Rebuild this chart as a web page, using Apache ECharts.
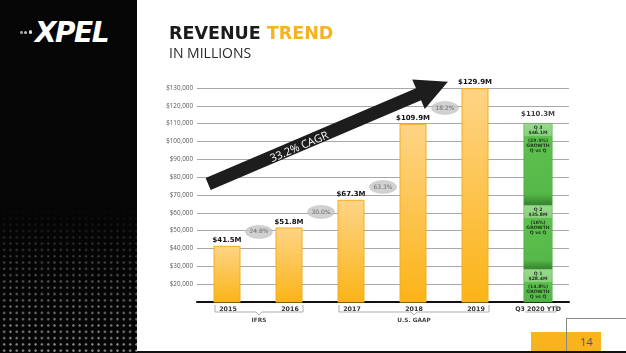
<!DOCTYPE html>
<html>
<head>
<meta charset="utf-8">
<script src="https://cdn.jsdelivr.net/npm/echarts@6/dist/echarts.min.js"></script>
<style>
  html, body { margin: 0; padding: 0; background: #fff; }
  #page { position: relative; width: 626px; height: 353px; overflow: hidden; background: #fff; }
  #panel { position: absolute; left: 0; top: 0; width: 137px; height: 353px; background: #050505; }
  #dots { position: absolute; left: 0; top: 208px; width: 137px; height: 145px;
    background-image: radial-gradient(circle, #9a9a9a 1px, rgba(0,0,0,0) 1.4px);
    background-size: 6.3px 6.3px; background-position: 1px 1px; }
  #fade { position: absolute; left: 0; top: 208px; width: 137px; height: 145px;
    background: linear-gradient(to bottom, rgba(5,5,5,1) 0%, rgba(5,5,5,0.55) 45%, rgba(5,5,5,0.1) 100%); }
  #logo { position: absolute; left: 35px; top: 16px; color: #fff; font: italic bold 28px "DejaVu Sans";
    letter-spacing: -1.5px; }
  .ld { position: absolute; border-radius: 50%; background: #ddd; }
  #chart { position: absolute; left: 0; top: 0; width: 626px; height: 353px; }
  #foot-orange { position: absolute; left: 531px; top: 332px; width: 70px; height: 20px; background: #f9b31b; }
  #foot-v { position: absolute; left: 566px; top: 318px; width: 1px; height: 35px; background: #888; }
  #foot-h { position: absolute; left: 566px; top: 318px; width: 60px; height: 1px; background: #888; }
  #foot-num { position: absolute; left: 580px; top: 334px; font: 11px "Open Sans"; color: #555; }
  #foot-line { position: absolute; left: 137px; top: 351px; width: 489px; height: 2px; background: #111; }
</style>
</head>
<body>
<div id="page">
  <div id="panel"></div>
  <div id="dots"></div>
  <div id="fade"></div>
  <div class="ld" style="left:20px;top:31px;width:2.5px;height:2.5px;background:#999"></div>
  <div class="ld" style="left:24px;top:30.5px;width:3px;height:3px;background:#bbb"></div>
  <div class="ld" style="left:28.5px;top:30px;width:3.5px;height:3.5px;background:#ddd"></div>
  <div id="logo">XPEL</div>
  <div id="foot-orange"></div>
  <div id="foot-v"></div>
  <div id="foot-h"></div>
  <div id="foot-num">14</div>
  <div id="foot-line"></div>
  <div id="chart"></div>
</div>
<script>
// values in thousands of dollars
const years = ['2015', '2016', '2017', '2018', '2019', 'Q3 2020 YTD'];
const annualRevenue = [41500, 51800, 67300, 109900, 129900, '-'];
const quarterNames = ['Q 1', 'Q 2', 'Q 3'];
const quarterRevenue = [28400, 35800, 46100];
const quarterGrowth = ['(14.8%)', '(16%)', '(29.5%)'];
const yoyGrowth = ['24.8%', '30.0%', '63.3%', '18.2%'];
const cagrText = '33.2% CAGR';
const standards = [
  { name: 'IFRS', first: 0, last: 1 },
  { name: 'U.S. GAAP', first: 2, last: 4 },
  { name: '', first: 5, last: 5 }
];
const yMin = 10000, yMax = 130000, yStep = 10000;

// layout only: where the growth bubbles and the CAGR arrow sit
const bubbleHeights = [49300, 60500, 74500, 118800];
const arrowFrom = [-0.32, 76200];
const arrowTo = [3.31, 130000];

const money = v => '$' + (v / 1000).toFixed(1) + 'M';
const ytdTotal = quarterRevenue.reduce((a, b) => a + b, 0);
const gridTop = 88, gridBottom = 51;
const pxPerUnit = (353 - gridTop - gridBottom) / (yMax - yMin);

const chart = echarts.init(document.getElementById('chart'));

let stackBase = 0;
const quarterSeries = quarterRevenue.map((v, q) => {
  const lo = Math.max(stackBase, yMin);
  stackBase += v;
  const segPx = (stackBase - lo) * pxPerUnit;
  const box = Math.min(0.45, 13 / segPx);
  return {
    type: 'bar',
    name: quarterNames[q],
    stack: 'ytd',
    barWidth: 29,
    barGap: '-100%',
    data: years.map((_, i) => i === 5 ? v : '-'),
    itemStyle: {
      borderColor: '#4aa93e', borderWidth: 0.5,
      color: {
        type: 'linear', x: 0, y: 0, x2: 0, y2: 1,
        colorStops: [
          { offset: 0, color: '#9cd891' },
          { offset: box, color: '#88cf7d' },
          { offset: box, color: '#5dc04f' },
          { offset: 0.86, color: '#55b848' },
          { offset: 1, color: q === 0 ? '#4eb042' : '#347f2e' }
        ]
      }
    },
    label: {
      show: true, position: 'insideTop', distance: 2,
      formatter: () => '{t|' + quarterNames[q] + '}\n{t|' + money(v) + '}\n{g|}\n{t|' +
        quarterGrowth[q] + '}\n{t|GROWTH}\n{t|Q vs Q}',
      rich: {
        t: { fontSize: 4.6, lineHeight: 5.2, fontWeight: 'bold', color: '#1d331b', fontFamily: 'DejaVu Sans' },
        g: { lineHeight: 2.5, fontSize: 2 }
      }
    }
  };
});

chart.setOption({
  animation: false,
  title: {
    left: 164, top: 20,
    text: '{a|REVENUE }{b|TREND}',
    textStyle: {
      rich: {
        a: { fontFamily: 'DejaVu Sans', fontWeight: 'bold', fontSize: 17.5, color: '#1b1b1b' },
        b: { fontFamily: 'DejaVu Sans', fontWeight: 'bold', fontSize: 17.5, color: '#f7b21c' }
      }
    },
    subtext: 'IN MILLIONS', itemGap: 4,
    subtextStyle: { fontFamily: 'Open Sans', fontSize: 14, color: '#2a2a2a' }
  },
  grid: { left: 197, right: 57, top: gridTop, bottom: gridBottom },
  xAxis: [{
    type: 'category', data: years,
    axisLine: { lineStyle: { color: '#111', width: 2 } },
    axisTick: { show: false },
    axisLabel: { margin: 4, fontSize: 6.3, fontWeight: 'bold', color: '#333', fontFamily: 'DejaVu Sans' }
  }, {
    type: 'value', min: -0.5, max: 5.5, show: false
  }],
  yAxis: {
    type: 'value', min: yMin, max: yMax, interval: yStep,
    axisLine: { show: false }, axisTick: { show: false },
    splitLine: { lineStyle: { color: '#a8a8a8', width: 1 } },
    axisLabel: {
      showMinLabel: false, margin: 4, fontSize: 6.3, color: '#555', fontFamily: 'Open Sans',
      formatter: v => '$' + v.toLocaleString('en-US')
    }
  },
  series: [{
    type: 'bar',
    name: 'Revenue',
    barWidth: 27,
    barGap: '-100%',
    data: annualRevenue,
    itemStyle: {
      borderColor: '#f5ad1c', borderWidth: 1,
      color: { type: 'linear', x: 0, y: 0, x2: 0, y2: 1,
        colorStops: [{ offset: 0, color: '#fed486' }, { offset: 1, color: '#fbb417' }] }
    },
    label: {
      show: true, position: 'top', distance: 2, formatter: p => money(p.value),
      fontSize: 7, fontWeight: 'bold', color: '#111', fontFamily: 'DejaVu Sans'
    }
  }].concat(quarterSeries, [{
    type: 'scatter',
    name: 'YTD total',
    symbolSize: 0,
    data: years.map((_, i) => i === 5 ? ytdTotal : '-'),
    label: {
      show: true, position: 'top', distance: 5, formatter: p => money(p.value),
      fontSize: 7, fontWeight: 'bold', color: '#111', fontFamily: 'DejaVu Sans'
    }
  }, {
    type: 'scatter',
    name: 'Growth',
    xAxisIndex: 1,
    clip: false,
    symbol: 'path://M0,5a5,5 0 1,0 10,0a5,5 0 1,0 -10,0z',
    symbolSize: [27, 13],
    itemStyle: { color: '#c6c6c6', borderColor: '#b5b5b5', borderWidth: 0.5 },
    data: yoyGrowth.map((g, i) => ({ value: [i + 0.5, bubbleHeights[i]], name: g })),
    label: {
      show: true, position: 'inside', formatter: p => p.name,
      fontSize: 6, color: '#555', fontFamily: 'DejaVu Sans'
    },
    markLine: {
      silent: true,
      symbol: ['none', 'triangle'],
      symbolSize: 32,
      lineStyle: { color: '#1d1d1d', width: 13, type: 'solid', opacity: 1 },
      itemStyle: { color: '#1d1d1d' },
      label: {
        show: true, position: 'middle', formatter: cagrText, distance: -7.5,
        padding: [0, 48, 0, 0],
        color: '#fff', fontSize: 11, fontFamily: 'Open Sans'
      },
      data: [[{ coord: arrowFrom }, { coord: arrowTo }]]
    }
  }])
});

// accounting-standard brackets under the category labels
const brackets = [];
standards.forEach(s => {
  const a = chart.convertToPixel({ xAxisIndex: 0, yAxisIndex: 0 }, [years[s.first], yMin]);
  const b = chart.convertToPixel({ xAxisIndex: 0, yAxisIndex: 0 }, [years[s.last], yMin]);
  const y = a[1];
  const x0 = a[0] - 13, x1 = b[0] + 13 + (s.name ? 0 : 5), mid = (a[0] + b[0]) / 2;
  const pts = s.name
    ? [[x0, y + 3], [x0, y + 10], [mid - 3, y + 10], [mid, y + 13], [mid + 3, y + 10], [x1, y + 10], [x1, y + 3]]
    : [[x0, y + 10], [x1, y + 10], [x1, y + 3]];
  brackets.push({ type: 'polyline', shape: { points: pts }, style: { stroke: '#999', lineWidth: 0.8, fill: null } });
  if (s.name) {
    brackets.push({ type: 'text', x: mid, y: y + 18, style: { text: s.name, align: 'center', verticalAlign: 'middle',
      fontSize: 5.8, fontWeight: 'bold', fill: '#444', fontFamily: 'DejaVu Sans' } });
  }
});
chart.setOption({ graphic: brackets });
</script>
</body>
</html>
